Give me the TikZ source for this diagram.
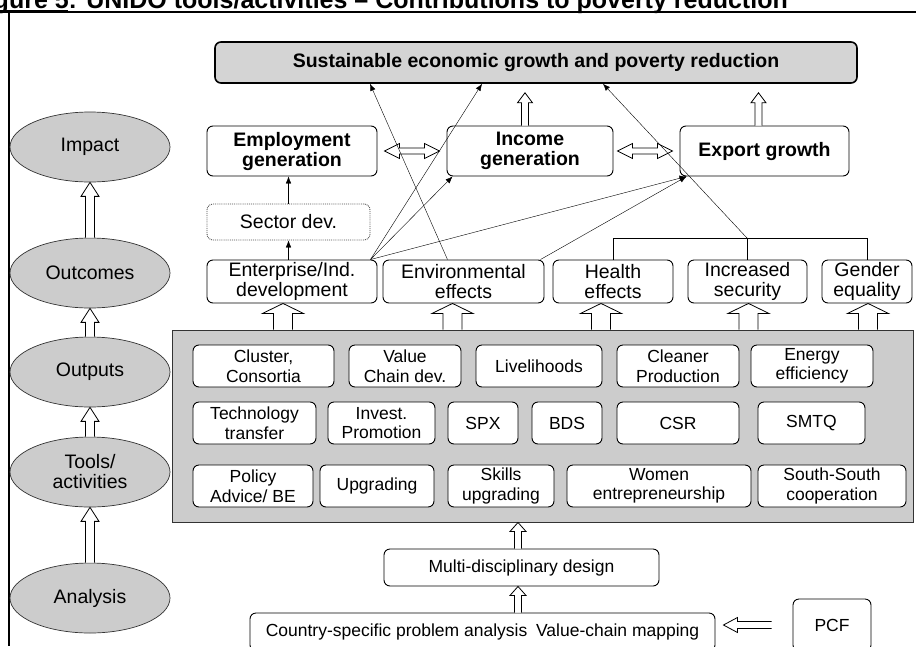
\documentclass[tikz,border=0pt]{standalone}
\usepackage{fontspec}
\setmainfont{Liberation Sans}
\usetikzlibrary{shapes.geometric,arrows.meta,calc}
\definecolor{fillgray}{gray}{0.8}
\definecolor{goalgray}{gray}{0.83}
\newcommand{\titlefont}{\fontsize{25}{27}\bfseries\selectfont}
\newcommand{\lvlfont}{\fontsize{19.5}{20}\selectfont}
\newcommand{\toolfont}{\fontsize{17.5}{19.5}\selectfont}
% hollow block arrow: tail, tip, half shaft, half head, head length
\newcommand{\blockarrow}[5]{%
  \coordinate (bt) at (#1);
  \coordinate (bh) at (#2);
  \coordinate (bn) at ($(bh)!#5!(bt)$);
  \draw[fill=white, line width=0.8pt] ($(bt)!#3!90:(bh)$) -- ($(bn)!#3!90:(bh)$) -- ($(bn)!#4!90:(bh)$) -- (bh)
    -- ($(bn)!#4!-90:(bh)$) -- ($(bn)!#3!-90:(bh)$) -- ($(bt)!#3!-90:(bh)$);
}
% hollow block arrow with two heads
\newcommand{\blockboth}[5]{%
  \coordinate (ba) at (#1);
  \coordinate (bb) at (#2);
  \coordinate (na) at ($(ba)!#5!(bb)$);
  \coordinate (nb) at ($(bb)!#5!(ba)$);
  \draw[fill=white, line width=0.8pt] (ba) -- ($(na)!#4!90:(bb)$) -- ($(na)!#3!90:(bb)$) -- ($(nb)!#3!-90:(ba)$)
    -- ($(nb)!#4!-90:(ba)$) -- (bb) -- ($(nb)!#4!90:(ba)$) -- ($(nb)!#3!90:(ba)$)
    -- ($(na)!#3!-90:(bb)$) -- ($(na)!#4!-90:(bb)$) -- cycle;
}
\begin{document}
\begin{tikzpicture}[x=1pt, y=-1pt, >={Latex[length=7pt,width=5.5pt]},
  level/.style = {draw=black!80, line width=0.7pt, ellipse, fill=fillgray, minimum width=160pt, minimum height=70pt, inner sep=0pt, align=center, font=\lvlfont},
  box/.style = {draw, line width=0.9pt, rounded corners=6pt, inner sep=0pt, align=center, font=\lvlfont},
  tool/.style = {draw, line width=0.9pt, rounded corners=6pt, fill=white, inner sep=0pt, minimum height=42pt, align=center, font=\toolfont}]
\useasboundingbox (0,0) rectangle (916,646);
\clip (0,0) rectangle (916,646);

% title and frame
\node[anchor=base east, font=\titlefont, inner sep=0pt] (title) at (788,8) {Figure 5: UNIDO tools/activities -- Contributions to poverty reduction};
\draw[line width=2pt] (0,10.5) -- (68,10.5);
\draw[line width=1.2pt] (0,12) -- (916,12);
\draw[line width=2.2pt] (9,12) -- (9,646);

% levels
\node[level] (impact) at (90,147) {Impact};
\node[level] (outcomes) at (90,273) {Outcomes};
\node[level] (outputs) at (90,372) {Outputs};
\node[level] (tools) at (90,472) {Tools/\\activities};
\node[level] (analysis) at (90,598) {Analysis};
\blockarrow{outcomes.north}{impact.south}{4.5pt}{9pt}{14pt}
\blockarrow{outputs.north}{outcomes.south}{4.5pt}{9pt}{14pt}
\blockarrow{tools.north}{outputs.south}{4.5pt}{9pt}{14pt}
\blockarrow{analysis.north}{tools.south}{4.5pt}{9pt}{14pt}

% impact
\node[box, fill=goalgray, line width=1.6pt, minimum width=642pt, minimum height=41pt, font=\lvlfont\bfseries] (goal) at (536,62.5) {Sustainable economic growth and poverty reduction};
\node[box, minimum width=170pt, minimum height=50pt, font=\lvlfont\bfseries] (emp) at (292,151) {Employment\\generation};
\node[box, minimum width=166pt, minimum height=50pt, font=\lvlfont\bfseries] (inc) at (530,151) {Income\\generation};
\node[box, minimum width=169pt, minimum height=50pt, font=\lvlfont\bfseries] (exp) at (764.5,151) {Export growth};
\node[box, draw=black!70, densely dotted, minimum width=163pt, minimum height=36pt] (sector) at (288.5,222) {Sector dev.};

% outcomes
\node[box, minimum width=170pt, minimum height=43pt] (ent) at (292,281.5) {Enterprise/Ind.\\development};
\node[box, minimum width=161pt, minimum height=43pt] (env) at (463.5,281.5) {Environmental\\effects};
\node[box, minimum width=120pt, minimum height=43pt] (health) at (613,281.5) {Health\\effects};
\node[box, minimum width=119pt, minimum height=43pt] (security) at (747.5,281.5) {Increased\\security};
\node[box, minimum width=90pt, minimum height=43pt] (gender) at (867,281.5) {Gender\\equality};

\blockboth{$(emp.east)+(7,0)$}{$(inc.west)+(-7,0)$}{3pt}{7.5pt}{15pt}
\blockboth{$(inc.east)+(4,0)$}{$(exp.west)+(-7,0)$}{3pt}{7.5pt}{15pt}
\blockarrow{$(inc.north)+(-5,0)$}{$(inc.north |- goal.south)+(-5,9)$}{3.5pt}{7.5pt}{10pt}
\blockarrow{$(exp.north)+(-6,0)$}{$(exp.north |- goal.south)+(-6,9)$}{3.5pt}{7.5pt}{10pt}

\draw[->] (ent.north -| sector.south) -- (sector.south);
\draw[->] (sector.north) -- (sector.north |- emp.south);
\draw[->] ([xshift=-7pt]ent.north east) -- ([xshift=-54pt]goal.south);
\draw[->] ([xshift=-7pt]ent.north east) -- ([xshift=6pt]inc.south west);
\draw[->] ([xshift=-7pt]ent.north east) -- ([xshift=7pt]exp.south west);
\draw[->] ([xshift=-4pt]env.north east) -- ([xshift=7pt]exp.south west);
\draw[->] ([xshift=-16pt]env.north) -- ([xshift=-166pt]goal.south);
\draw (health.north) -- ++(0,-21) -| (gender.north);
\draw (security.north) -- ++(0,-21) coordinate (join);
\draw[->] (join) -- ([xshift=67pt]goal.south);

% outputs / tools
\node[draw=black!80, line width=0.9pt, fill=fillgray, minimum width=741pt, minimum height=192pt, inner sep=0pt] (panel) at (542.5,426) {};
\node[tool, minimum width=141pt] (cluster) at (263.5,366) {Cluster,\\Consortia};
\node[tool, minimum width=112pt] (chain) at (405,366) {Value\\Chain dev.};
\node[tool, minimum width=126pt] (liveli) at (539,366) {Livelihoods};
\node[tool, minimum width=122pt] (cleaner) at (678,366) {Cleaner\\Production};
\node[tool, minimum width=122pt] (energy) at (812,366) {Energy\\efficiency};
\node[tool, minimum width=123pt] (techno) at (254.5,423) {Technology\\transfer};
\node[tool, minimum width=107pt] (invest) at (381.5,423) {Invest.\\Promotion};
\node[tool, minimum width=70pt] (spx) at (483,423) {SPX};
\node[tool, minimum width=70pt] (bds) at (567,423) {BDS};
\node[tool, minimum width=122pt] (csr) at (678,423) {CSR};
\node[tool, minimum width=107pt] (smtq) at (811.5,423) {SMTQ};
\node[tool, minimum width=120pt] (policy) at (253,486) {Policy\\Advice/ BE};
\node[tool, minimum width=114pt] (upgr) at (377,486) {Upgrading};
\node[tool, minimum width=106pt] (skills) at (501,486) {Skills\\upgrading};
\node[tool, minimum width=184pt] (women) at (659,486) {Women\\entrepreneurship};
\node[tool, minimum width=148pt] (south) at (832,486) {South-South\\cooperation};

\foreach \b/\dx in {ent/-9, env/-11, health/-12, security/1, gender/1}{
  \blockarrow{$(\b.south |- panel.north)+(\dx,0)$}{$(\b.south)+(\dx,0)$}{9.5pt}{20.5pt}{10pt}
}

% analysis
\node[tool, minimum width=275pt, minimum height=37pt] (multi) at (521.5,567.5) {Multi-disciplinary design};
\node[tool, minimum width=465pt, minimum height=38pt] (country) at (482.5,632) {Country-specific problem analysis\hspace{0.5em}Value-chain mapping};
\node[tool, minimum width=78pt, minimum height=52pt] (pcf) at (832,625) {PCF};
\blockarrow{$(multi.north)+(-3.5,0)$}{$(multi.north |- panel.south)+(-3.5,0)$}{3.5pt}{8pt}{9pt}
\blockarrow{$(multi.south |- country.north)+(-3.5,0)$}{$(multi.south)+(-3.5,0)$}{3.5pt}{8pt}{9pt}
\blockarrow{$(pcf.west)+(-21,0)$}{$(country.east |- pcf.west)+(8,0)$}{3.5pt}{7.5pt}{14pt}
\end{tikzpicture}
\end{document}
